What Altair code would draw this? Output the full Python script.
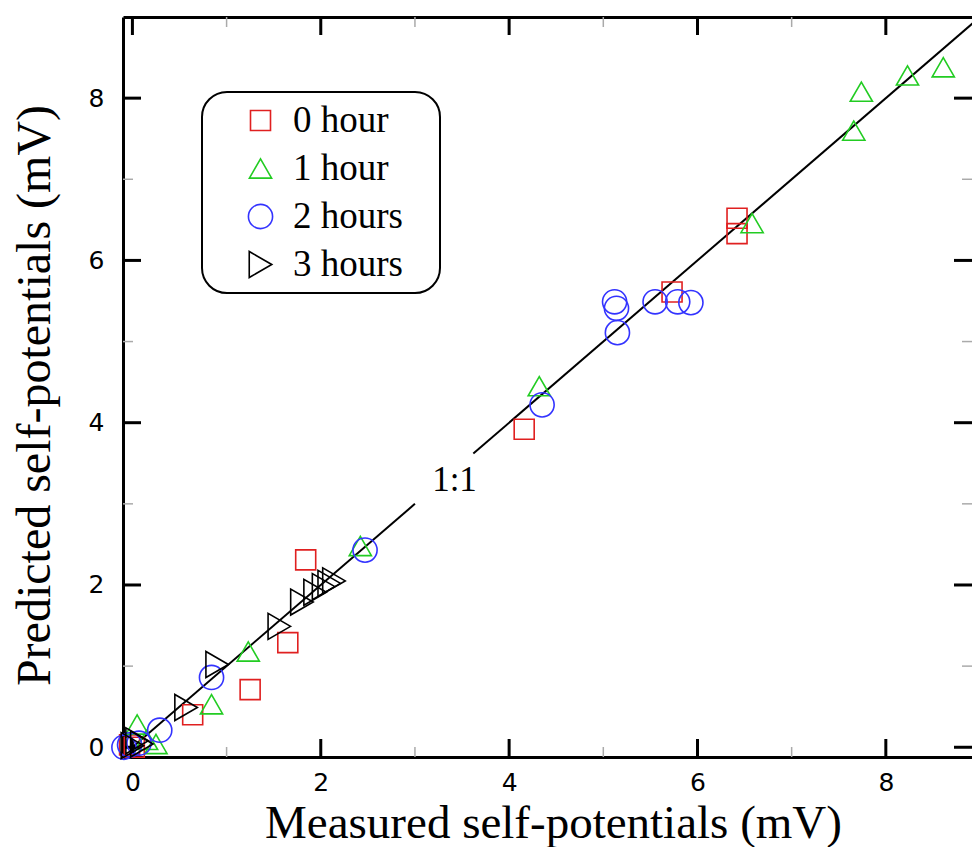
import altair as alt
import pandas as pd

# ---- data ----
series = ["0 hour", "1 hour", "2 hours", "3 hours"]

x_0h = [-0.03, 0.02, 0.64, 1.25, 1.65, 1.84, 4.16, 5.73, 6.42, 6.42]
y_0h = [0.03, 0.00, 0.40, 0.71, 1.29, 2.31, 3.92, 5.61, 6.33, 6.52]

x_1h = [0.05, 0.15, 0.25, 0.84, 1.23, 2.42, 4.32, 6.58, 7.66, 7.74, 8.23, 8.61]
y_1h = [0.28, 0.09, 0.04, 0.53, 1.18, 2.48, 4.45, 6.46, 7.60, 8.08, 8.28, 8.38]

x_2h = [-0.09, -0.03, 0.07, 0.29, 0.84, 2.47, 4.35, 5.12, 5.14, 5.15, 5.55, 5.79, 5.93]
y_2h = [0.00, 0.03, 0.05, 0.21, 0.86, 2.43, 4.22, 5.49, 5.41, 5.11, 5.49, 5.49, 5.48]

x_3h = [0.00, 0.05, 0.10, 0.57, 0.90, 1.56, 1.80, 1.94, 2.03, 2.09, 2.14]
y_3h = [0.02, 0.08, 0.04, 0.49, 1.02, 1.49, 1.79, 1.91, 1.98, 2.02, 2.05]

# 1:1 reference line (broken around its label)
line_x = [0.0, 3.0, 3.62, 9.0]
line_y = [0.0, 3.0, 3.62, 9.0]
line_seg = ["lower", "lower", "upper", "upper"]
label_text = ["1:1"]
label_x = [3.42]
label_y = [3.29]

major_ticks = [0, 2, 4, 6, 8]
minor_ticks = [1, 3, 5, 7]

# ---- styling ----
colors = ["#e02020", "#22cc22", "#3333ff", "#000000"]
shapes = ["square", "triangle-up", "circle", "triangle-right"]
sizes = [400, 676, 784, 576]
XDOM = [-0.1, 8.915]
YDOM = [-0.12, 9.0]
W, H = 849, 740
MAJ, MIN = 18, 10
SERIF = "Liberation Serif"
SANS = "DejaVu Sans"

rows = []
for name, xs_, ys_ in zip(series, [x_0h, x_1h, x_2h, x_3h], [y_0h, y_1h, y_2h, y_3h]):
    for a, b in zip(xs_, ys_):
        rows.append({"series": name, "x": a, "y": b})
df = pd.DataFrame(rows)
line_df = pd.DataFrame({"x": line_x, "y": line_y, "seg": line_seg})
lab_df = pd.DataFrame({"t": label_text, "x": label_x, "y": label_y})
maj_df = pd.DataFrame({"v": major_ticks})
min_df = pd.DataFrame({"v": minor_ticks})

xs = alt.Scale(domain=XDOM, nice=False, zero=False)
ys = alt.Scale(domain=YDOM, nice=False, zero=False)

leg = alt.Legend(
    orient="none", legendX=79, legendY=75, title=None,
    labelFont=SERIF, labelFontSize=37, labelColor="black", labelLimit=400,
    labelOffset=14, symbolOffset=30, rowPadding=10, padding=10,
    symbolStrokeWidth=1.6, strokeColor="black",
    cornerRadius=25, fillColor="white",
    labelExpr="datum.label + '\u2800'",
)

points = alt.Chart(df).mark_point(filled=False, strokeWidth=1.6, opacity=1).encode(
    x=alt.X("x:Q", scale=xs, axis=alt.Axis(
        title="Measured self-potentials (mV)", values=major_ticks, ticks=False, tickSize=0,
        grid=False, labelFont=SANS, labelFontSize=25, labelColor="black", labelPadding=13,
        domainColor="black", domainWidth=3,
        titleFont=SERIF, titleFontSize=47, titleFontWeight="normal", titleColor="black",
        titleX=430, titleY=80, titleBaseline="alphabetic", titleAlign="center")),
    y=alt.Y("y:Q", scale=ys, axis=alt.Axis(
        title="Predicted self-potentials (mV)", values=major_ticks, ticks=False, tickSize=0,
        grid=False, labelFont=SANS, labelFontSize=25, labelColor="black", labelPadding=19,
        domainColor="black", domainWidth=3,
        titleFont=SERIF, titleFontSize=48, titleFontWeight="normal", titleColor="black",
        titleX=-74, titleY=378, titleAngle=270, titleBaseline="alphabetic", titleAlign="center")),
    color=alt.Color("series:N", scale=alt.Scale(domain=series, range=colors), legend=leg),
    shape=alt.Shape("series:N", scale=alt.Scale(domain=series, range=shapes), legend=leg),
    size=alt.Size("series:N", scale=alt.Scale(domain=series, range=sizes), legend=leg),
)

line = alt.Chart(line_df).mark_line(color="black", strokeWidth=2, clip=True).encode(
    x=alt.X("x:Q", scale=xs, axis=None),
    y=alt.Y("y:Q", scale=ys, axis=None),
    detail="seg:N",
)

label = alt.Chart(lab_df).mark_text(font=SERIF, fontSize=35, color="black").encode(
    x=alt.X("x:Q", scale=xs, axis=None),
    y=alt.Y("y:Q", scale=ys, axis=None),
    text="t:N",
)


def xticks(d, length, width, color, top_axis=None):
    bottom = alt.Chart(d).mark_rule(color=color, strokeWidth=width).encode(
        x=alt.X("v:Q", scale=xs, axis=None), y=alt.value(H), y2=alt.value(H - length))
    top = alt.Chart(d).mark_rule(color=color, strokeWidth=width).encode(
        x=alt.X("v:Q", scale=xs, axis=top_axis), y=alt.value(0), y2=alt.value(length))
    return [bottom, top]


def yticks(d, length, width, color):
    left = alt.Chart(d).mark_rule(color=color, strokeWidth=width).encode(
        y=alt.Y("v:Q", scale=ys, axis=None), x=alt.value(0), x2=alt.value(length))
    right = alt.Chart(d).mark_rule(color=color, strokeWidth=width).encode(
        y=alt.Y("v:Q", scale=ys, axis=None), x=alt.value(W), x2=alt.value(W - length))
    return [left, right]


top_axis = alt.Axis(orient="top", labels=False, ticks=False, tickSize=0, grid=False,
                    title=None, domainColor="black", domainWidth=3)

layers = []
layers += xticks(min_df, MIN, 1.5, "#aaaaaa")
layers += yticks(min_df, MIN, 1.5, "#aaaaaa")
layers += xticks(maj_df, MAJ, 3, "black", top_axis=top_axis)
layers += yticks(maj_df, MAJ, 3, "black")
layers += [line, label, points]

chart = alt.layer(*layers).resolve_axis(x="independent", y="independent").properties(
    width=W, height=H,
    autosize=alt.AutoSizeParams(type="none"),
    padding={"left": 115, "top": 9, "right": 0, "bottom": 90},
    background="white",
).configure_view(stroke=None).configure_legend(strokeWidth=2)

chart.save("out.html", embed_options={"renderer": "svg", "actions": False})
